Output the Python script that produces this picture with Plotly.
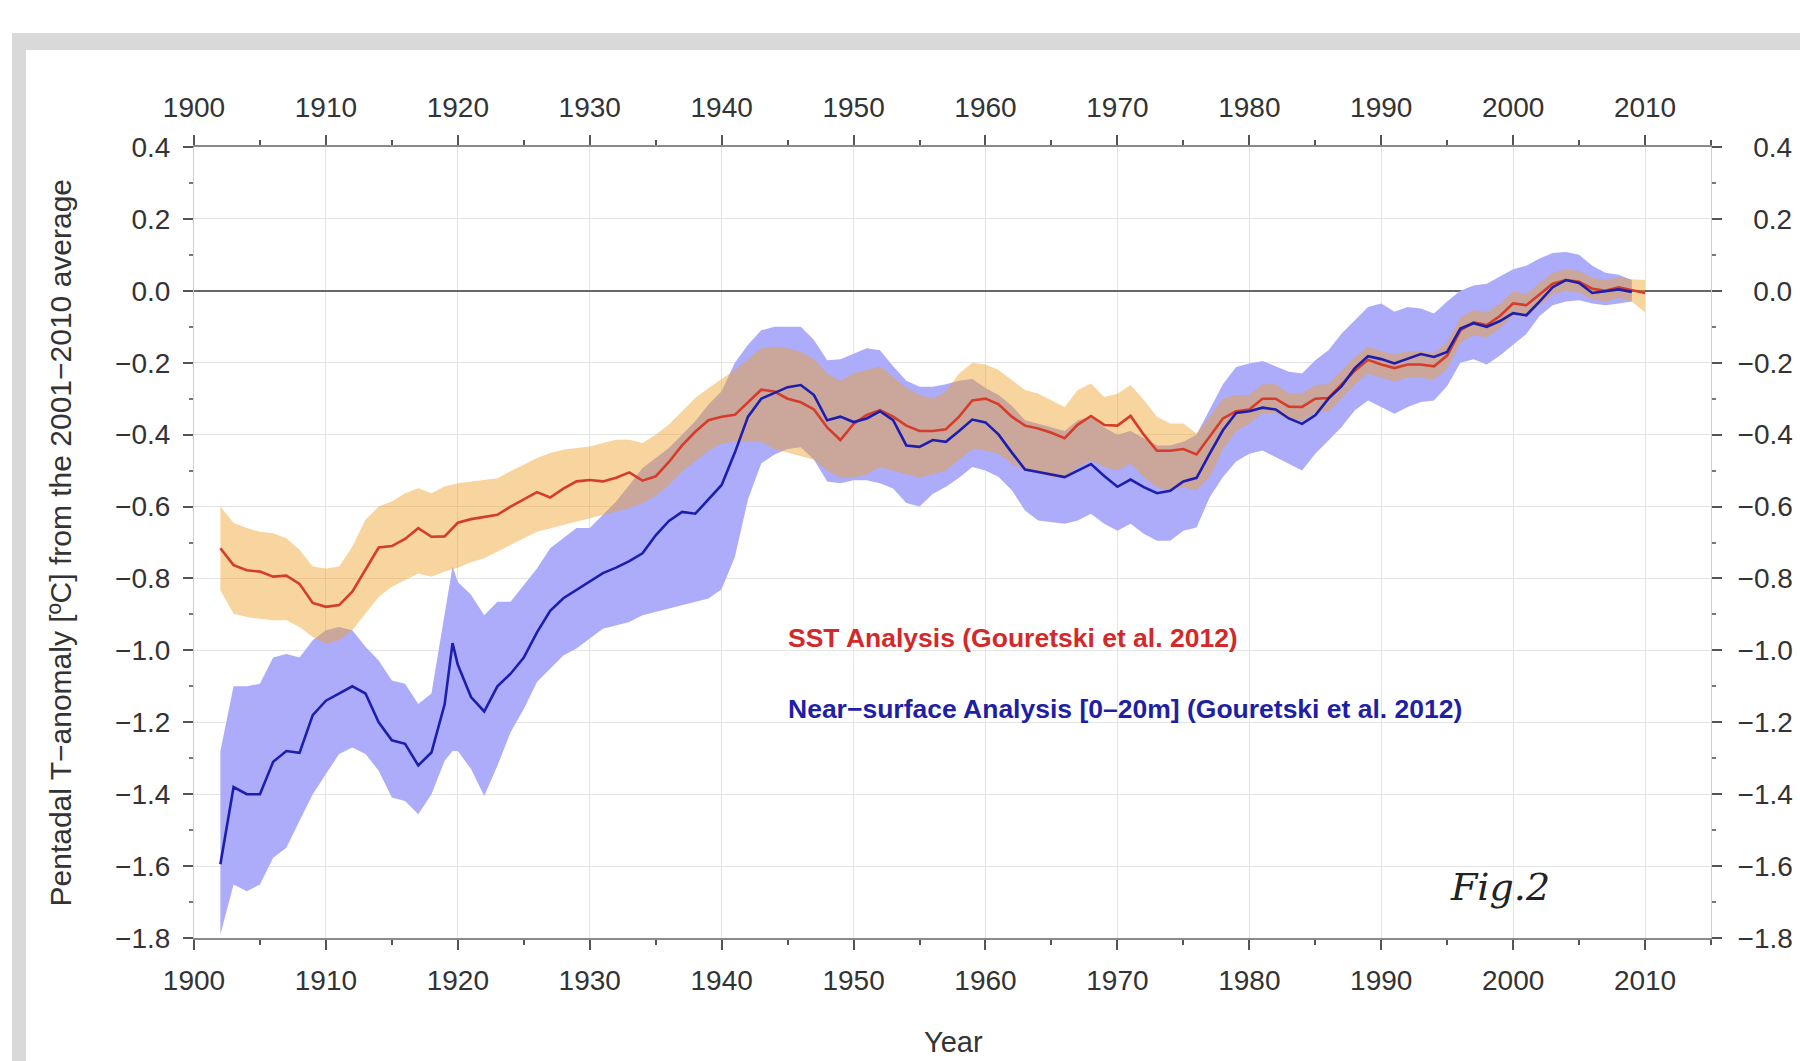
import plotly.graph_objects as go

# ---------------- data ----------------
sst_years = list(range(1902, 2011))
sst_mean = [
    -0.716, -0.763, -0.777, -0.781, -0.795, -0.792, -0.815, -0.868, -0.879, -0.874,
    -0.837, -0.775, -0.714, -0.710, -0.690, -0.660, -0.684, -0.683, -0.645, -0.635,
    -0.628, -0.623, -0.600, -0.581, -0.560, -0.575, -0.550, -0.530, -0.526, -0.530,
    -0.520, -0.505, -0.528, -0.516, -0.476, -0.430, -0.392, -0.360, -0.350, -0.345,
    -0.310, -0.275, -0.280, -0.300, -0.310, -0.330, -0.380, -0.415, -0.370, -0.345,
    -0.332, -0.350, -0.375, -0.390, -0.390, -0.385, -0.350, -0.305, -0.300, -0.316,
    -0.350, -0.375, -0.383, -0.395, -0.410, -0.372, -0.348, -0.373, -0.375, -0.348,
    -0.400, -0.445, -0.445, -0.440, -0.455, -0.405, -0.355, -0.335, -0.330, -0.300,
    -0.300, -0.322, -0.323, -0.300, -0.298, -0.260, -0.222, -0.192, -0.205, -0.215,
    -0.205, -0.205, -0.210, -0.180, -0.110, -0.088, -0.095, -0.070, -0.035, -0.040,
    -0.010, 0.020, 0.030, 0.025, 0.006, 0.000, 0.010, 0.002, -0.006,
]
sst_upper = [
    -0.600, -0.646, -0.660, -0.670, -0.674, -0.688, -0.720, -0.767, -0.772, -0.767,
    -0.712, -0.637, -0.600, -0.586, -0.563, -0.549, -0.563, -0.544, -0.535, -0.530,
    -0.526, -0.521, -0.502, -0.484, -0.465, -0.451, -0.442, -0.437, -0.433, -0.423,
    -0.414, -0.414, -0.423, -0.400, -0.372, -0.335, -0.298, -0.270, -0.245, -0.220,
    -0.190, -0.160, -0.155, -0.160, -0.170, -0.190, -0.230, -0.250, -0.230, -0.220,
    -0.210, -0.240, -0.270, -0.290, -0.300, -0.280, -0.230, -0.200, -0.205, -0.220,
    -0.248, -0.276, -0.286, -0.304, -0.323, -0.276, -0.258, -0.295, -0.286, -0.262,
    -0.304, -0.350, -0.369, -0.369, -0.397, -0.350, -0.300, -0.290, -0.290, -0.260,
    -0.260, -0.285, -0.285, -0.262, -0.260, -0.222, -0.185, -0.155, -0.168, -0.178,
    -0.168, -0.168, -0.173, -0.143, -0.075, -0.053, -0.060, -0.035, -0.002, -0.008,
    0.022, 0.050, 0.060, 0.055, 0.036, 0.030, 0.038, 0.032, 0.030,
]
sst_lower = [
    -0.833, -0.898, -0.907, -0.912, -0.916, -0.916, -0.935, -0.963, -0.981, -0.972,
    -0.944, -0.898, -0.851, -0.823, -0.805, -0.786, -0.795, -0.781, -0.770, -0.755,
    -0.744, -0.726, -0.707, -0.688, -0.670, -0.660, -0.651, -0.642, -0.633, -0.623,
    -0.614, -0.605, -0.590, -0.570, -0.540, -0.502, -0.474, -0.445, -0.425, -0.420,
    -0.420, -0.420, -0.440, -0.450, -0.460, -0.470, -0.500, -0.520, -0.520, -0.510,
    -0.490, -0.500, -0.510, -0.520, -0.510, -0.500, -0.470, -0.440, -0.444, -0.453,
    -0.481, -0.500, -0.509, -0.518, -0.518, -0.490, -0.472, -0.490, -0.500, -0.481,
    -0.518, -0.546, -0.555, -0.546, -0.555, -0.518, -0.440, -0.390, -0.370, -0.340,
    -0.340, -0.360, -0.362, -0.338, -0.336, -0.298, -0.260, -0.230, -0.242, -0.252,
    -0.242, -0.242, -0.247, -0.217, -0.145, -0.123, -0.130, -0.105, -0.070, -0.072,
    -0.042, -0.010, 0.000, -0.005, -0.024, -0.030, -0.020, -0.030, -0.060,
]

nsa_years = list(range(1902, 1920)) + [1919.6] + list(range(1920, 2010))
nsa_mean = [
    -1.595, -1.380, -1.400, -1.400, -1.310, -1.280, -1.285, -1.180, -1.140, -1.120,
    -1.100, -1.120, -1.200, -1.250, -1.260, -1.320, -1.284, -1.150,
    -0.980,
    -1.040, -1.130, -1.170, -1.100, -1.065, -1.020, -0.950, -0.890, -0.855, -0.832,
    -0.810, -0.785, -0.770, -0.752, -0.730, -0.680, -0.640, -0.615, -0.620, -0.580,
    -0.540, -0.450, -0.350, -0.300, -0.285, -0.268, -0.262, -0.290, -0.360, -0.350,
    -0.365, -0.355, -0.335, -0.360, -0.430, -0.434, -0.415, -0.420, -0.390, -0.358,
    -0.366, -0.400, -0.450, -0.497, -0.504, -0.510, -0.518, -0.500, -0.482, -0.515,
    -0.545, -0.525, -0.546, -0.563, -0.556, -0.530, -0.520, -0.453, -0.388, -0.340,
    -0.335, -0.325, -0.330, -0.355, -0.370, -0.346, -0.300, -0.265, -0.215, -0.182,
    -0.190, -0.202, -0.188, -0.176, -0.184, -0.170, -0.105, -0.090, -0.100, -0.084,
    -0.062, -0.068, -0.030, 0.010, 0.030, 0.022, -0.006, 0.000, 0.004, -0.003,
]
nsa_upper = [
    -1.280, -1.100, -1.100, -1.093, -1.020, -1.010, -1.020, -0.972, -0.944, -0.935,
    -0.944, -0.990, -1.028, -1.084, -1.093, -1.149, -1.120, -0.900,
    -0.767,
    -0.810, -0.845, -0.902, -0.865, -0.865, -0.819, -0.772, -0.716, -0.688, -0.660,
    -0.660, -0.623, -0.586, -0.540, -0.493, -0.465, -0.437, -0.400, -0.363, -0.316,
    -0.279, -0.200, -0.150, -0.110, -0.100, -0.100, -0.100, -0.137, -0.193, -0.190,
    -0.175, -0.160, -0.165, -0.210, -0.250, -0.267, -0.267, -0.260, -0.250, -0.245,
    -0.270, -0.290, -0.320, -0.360, -0.370, -0.380, -0.390, -0.360, -0.350, -0.380,
    -0.400, -0.390, -0.410, -0.430, -0.430, -0.420, -0.400, -0.330, -0.260, -0.212,
    -0.202, -0.195, -0.210, -0.225, -0.230, -0.193, -0.165, -0.119, -0.082, -0.045,
    -0.035, -0.058, -0.045, -0.049, -0.063, -0.030, 0.000, 0.015, 0.020, 0.040,
    0.060, 0.070, 0.090, 0.105, 0.108, 0.100, 0.070, 0.050, 0.045, 0.030,
]
nsa_lower = [
    -1.790, -1.651, -1.670, -1.651, -1.577, -1.549, -1.474, -1.400, -1.344, -1.288,
    -1.270, -1.288, -1.335, -1.409, -1.419, -1.456, -1.400, -1.307,
    -1.280,
    -1.280, -1.330, -1.405, -1.321, -1.228, -1.163, -1.088, -1.051, -1.014, -0.995,
    -0.967, -0.940, -0.930, -0.921, -0.902, -0.893, -0.884, -0.874, -0.865, -0.856,
    -0.830, -0.740, -0.580, -0.480, -0.455, -0.440, -0.435, -0.470, -0.530, -0.535,
    -0.527, -0.527, -0.535, -0.550, -0.590, -0.600, -0.565, -0.545, -0.520, -0.490,
    -0.500, -0.518, -0.555, -0.611, -0.639, -0.644, -0.648, -0.639, -0.620, -0.648,
    -0.667, -0.648, -0.676, -0.695, -0.695, -0.667, -0.658, -0.574, -0.518, -0.475,
    -0.453, -0.444, -0.462, -0.481, -0.500, -0.453, -0.416, -0.379, -0.332, -0.305,
    -0.323, -0.342, -0.323, -0.309, -0.305, -0.265, -0.200, -0.190, -0.205, -0.180,
    -0.150, -0.120, -0.070, -0.040, -0.030, -0.026, -0.035, -0.040, -0.035, -0.030,
]

x_ticks = [1900, 1910, 1920, 1930, 1940, 1950, 1960, 1970, 1980, 1990, 2000, 2010]
y_ticks = [0.4, 0.2, 0.0, -0.2, -0.4, -0.6, -0.8, -1.0, -1.2, -1.4, -1.6, -1.8]
x_range = [1900, 2015]
y_range = [-1.8, 0.4]

sst_label = "SST Analysis (Gouretski et al. 2012)"
nsa_label = "Near\u2212surface Analysis [0\u201320m] (Gouretski et al. 2012)"
y_title = "Pentadal T\u2212anomaly [\u00baC] from the 2001\u22122010 average"
x_title = "Year"
fig_label = "Fig.2"

# right-hand labels: right-aligned look (figure space pads the non-negative ones)
y_right_text = [("\u2212" if v < 0 else "\u2007") + f"{abs(v):.1f}" for v in y_ticks]

# ---------------- styling ----------------
W, H = 1800, 1061
ML, MR, MT, MB = 194, 89, 147, 123
PW, PH = W - ML - MR, H - MT - MB


def px_x(p):
    return (p - ML) / PW


def px_y(p):
    return (H - MB - p) / PH


SANS = "Liberation Sans, Arial, sans-serif"
TICK_FONT = dict(family=SANS, size=28, color="#333333")

BLUE_BAND = "rgb(172,172,250)"
ORANGE_BAND = "rgba(240,160,40,0.45)"
RED_LINE = "#d63c2a"
BLUE_LINE = "#1e1eae"

fig = go.Figure()

# blue uncertainty band
fig.add_trace(go.Scatter(
    x=nsa_years + nsa_years[::-1], y=nsa_upper + nsa_lower[::-1],
    fill="toself", fillcolor=BLUE_BAND, line=dict(width=0),
    mode="lines", hoverinfo="skip", showlegend=False))
# orange uncertainty band
fig.add_trace(go.Scatter(
    x=sst_years + sst_years[::-1], y=sst_upper + sst_lower[::-1],
    fill="toself", fillcolor=ORANGE_BAND, line=dict(width=0),
    mode="lines", hoverinfo="skip", showlegend=False))
# lines
fig.add_trace(go.Scatter(x=sst_years, y=sst_mean, mode="lines",
                         line=dict(color=RED_LINE, width=2.6), name=sst_label,
                         showlegend=False))
fig.add_trace(go.Scatter(x=nsa_years, y=nsa_mean, mode="lines",
                         line=dict(color=BLUE_LINE, width=2.6), name=nsa_label,
                         showlegend=False))
# invisible trace for the mirrored (top/right) axes
fig.add_trace(go.Scatter(x=[x_range[0]], y=[y_range[0]], xaxis="x2", yaxis="y2",
                         mode="markers", marker=dict(opacity=0), hoverinfo="skip",
                         showlegend=False))

common_x = dict(range=x_range, tickvals=x_ticks, ticks="outside", ticklen=10,
                tickwidth=1.5, tickcolor="#555555", tickfont=TICK_FONT,
                minor=dict(dtick=5, tick0=1900, ticks="outside", ticklen=5,
                           tickcolor="#555555", showgrid=False),
                showline=True, linecolor="#8a8a8a", linewidth=1.5,
                zeroline=False, fixedrange=True, automargin=False)
common_y = dict(range=y_range, tickvals=y_ticks, ticks="outside",
                ticklen=10, tickwidth=1.5, tickcolor="#555555", tickfont=TICK_FONT,
                minor=dict(dtick=0.1, tick0=0, ticks="outside", ticklen=4,
                           tickcolor="#777777", showgrid=False),
                showline=True, linecolor="#cfcfcf", linewidth=1,
                fixedrange=True, automargin=False)

fig.update_layout(
    width=W, height=H,
    margin=dict(l=ML, r=MR, t=MT, b=MB, pad=0, autoexpand=False),
    paper_bgcolor="white", plot_bgcolor="white",
    showlegend=False,
    xaxis=dict(**common_x, side="bottom", showgrid=True, gridcolor="#e4e4e4",
               gridwidth=1, ticklabelstandoff=7),
    xaxis2=dict(**common_x, side="top", overlaying="x", anchor="y",
                showgrid=False, ticklabelstandoff=7),
    yaxis=dict(**common_y, side="left", tickformat=".1f", showgrid=True,
               gridcolor="#e4e4e4", gridwidth=1, zeroline=True,
               zerolinecolor="#666666", zerolinewidth=1.6, ticklabelstandoff=7),
    yaxis2=dict(**common_y, side="right", overlaying="y", anchor="x",
                ticktext=y_right_text, showgrid=False, zeroline=False,
                ticklabelstandoff=10),
    shapes=[
        dict(type="rect", xref="paper", yref="paper", layer="below",
             x0=px_x(12), x1=px_x(26), y0=px_y(1075), y1=px_y(33),
             fillcolor="#d9d9d9", line=dict(width=0)),
        dict(type="rect", xref="paper", yref="paper", layer="below",
             x0=px_x(12), x1=px_x(1815), y0=px_y(50), y1=px_y(33),
             fillcolor="#d9d9d9", line=dict(width=0)),
    ],
    annotations=[
        dict(text=y_title, xref="paper", yref="paper", x=px_x(60), y=0.5,
             textangle=-90, showarrow=False, xanchor="center", yanchor="middle",
             font=dict(family=SANS, size=30, color="#333333")),
        dict(text=x_title, xref="paper", yref="paper", x=px_x(953), y=px_y(1042),
             showarrow=False, xanchor="center", yanchor="middle",
             font=dict(family=SANS, size=29, color="#333333")),
        dict(text=sst_label, xref="paper", yref="paper", x=px_x(786), y=px_y(638),
             showarrow=False, xanchor="left", yanchor="middle",
             font=dict(family=SANS, size=26.5, color="#d22a2a", weight="bold")),
        dict(text=nsa_label, xref="paper", yref="paper", x=px_x(786), y=px_y(709),
             showarrow=False, xanchor="left", yanchor="middle",
             font=dict(family=SANS, size=26.5, color="#1f1fa6", weight="bold")),
        dict(text=fig_label, xref="paper", yref="paper", x=px_x(1500), y=px_y(887),
             showarrow=False, xanchor="center", yanchor="middle",
             font=dict(family="DejaVu Serif, Liberation Serif, serif", size=38,
                       color="#222222", style="italic")),
    ],
)

fig.write_html(
    "out.html",
    config={"displayModeBar": False},
    post_script="document.body.style.margin='0';document.body.style.overflow='hidden';",
)
